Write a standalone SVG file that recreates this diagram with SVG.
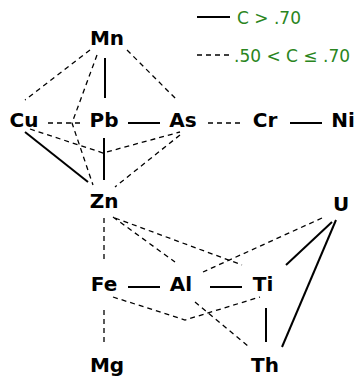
<svg xmlns="http://www.w3.org/2000/svg" width="360" height="381" viewBox="0 0 360 381">
<style>
.n{font-family:"DejaVu Sans",Verdana,sans-serif;font-weight:bold;font-size:20px;fill:#000;text-anchor:middle}
.lg{font-family:"DejaVu Sans",Verdana,sans-serif;font-size:17px;fill:#2a8520}
.s{stroke:#000;stroke-width:2;fill:none}
.d{stroke:#000;stroke-width:1.3;fill:none;stroke-dasharray:5 4}
</style>
<rect width="360" height="381" fill="#fff"/>
<g id="legend">
<line class="s" x1="197" y1="17" x2="230" y2="17"/>
<text class="lg" x="237" y="24">C &gt; .70</text>
<line class="d" x1="197" y1="55" x2="230" y2="55"/>
<text class="lg" x="234" y="62">.50 &lt; C ≤ .70</text>
</g>
<g id="connectors">
<line class="s" x1="105" y1="58" x2="105" y2="98"/>
<line class="d" x1="90" y1="50" x2="25" y2="100"/>
<polyline class="d" points="97,55 72,123 93,185"/>
<line class="d" x1="127" y1="50" x2="177" y2="100"/>
<line class="d" x1="48" y1="123" x2="80" y2="123"/>
<line class="s" x1="128" y1="123" x2="160" y2="123"/>
<line class="d" x1="208" y1="123" x2="240" y2="123"/>
<line class="s" x1="290" y1="123" x2="322" y2="123"/>
<line class="s" x1="104" y1="138" x2="104" y2="180"/>
<line class="s" x1="25" y1="132" x2="88" y2="182"/>
<polyline class="d" points="30,129 103,153 180,132"/>
<line class="d" x1="180" y1="135" x2="115" y2="187"/>
<line class="d" x1="104" y1="218" x2="104" y2="263"/>
<line class="d" x1="113" y1="217" x2="175" y2="262"/>
<line class="d" x1="115" y1="218" x2="242" y2="265"/>
<line class="d" x1="322" y1="218" x2="203" y2="272"/>
<line class="s" x1="332" y1="222" x2="286" y2="265"/>
<line class="s" x1="336" y1="220" x2="282" y2="347"/>
<line class="s" x1="128" y1="287" x2="160" y2="287"/>
<line class="s" x1="210" y1="287" x2="242" y2="287"/>
<polyline class="d" points="113,297 185,320 260,297"/>
<line class="d" x1="195" y1="302" x2="248" y2="346"/>
<line class="s" x1="266" y1="308" x2="266" y2="342"/>
<line class="d" x1="104" y1="310" x2="104" y2="345"/>
</g>
<g id="Mn"><text class="n" x="107" y="45">Mn</text></g>
<g id="Cu"><text class="n" x="24" y="127">Cu</text></g>
<g id="Pb"><text class="n" x="104" y="127">Pb</text></g>
<g id="As"><text class="n" x="183" y="127">As</text></g>
<g id="Cr"><text class="n" x="265" y="127">Cr</text></g>
<g id="Ni"><text class="n" x="343" y="127">Ni</text></g>
<g id="Zn"><text class="n" x="104" y="208">Zn</text></g>
<g id="U"><text class="n" x="341" y="211">U</text></g>
<g id="Fe"><text class="n" x="104" y="291">Fe</text></g>
<g id="Al"><text class="n" x="181" y="291">Al</text></g>
<g id="Ti"><text class="n" x="263" y="291">Ti</text></g>
<g id="Mg"><text class="n" x="107" y="372">Mg</text></g>
<g id="Th"><text class="n" x="265" y="372">Th</text></g>
</svg>
